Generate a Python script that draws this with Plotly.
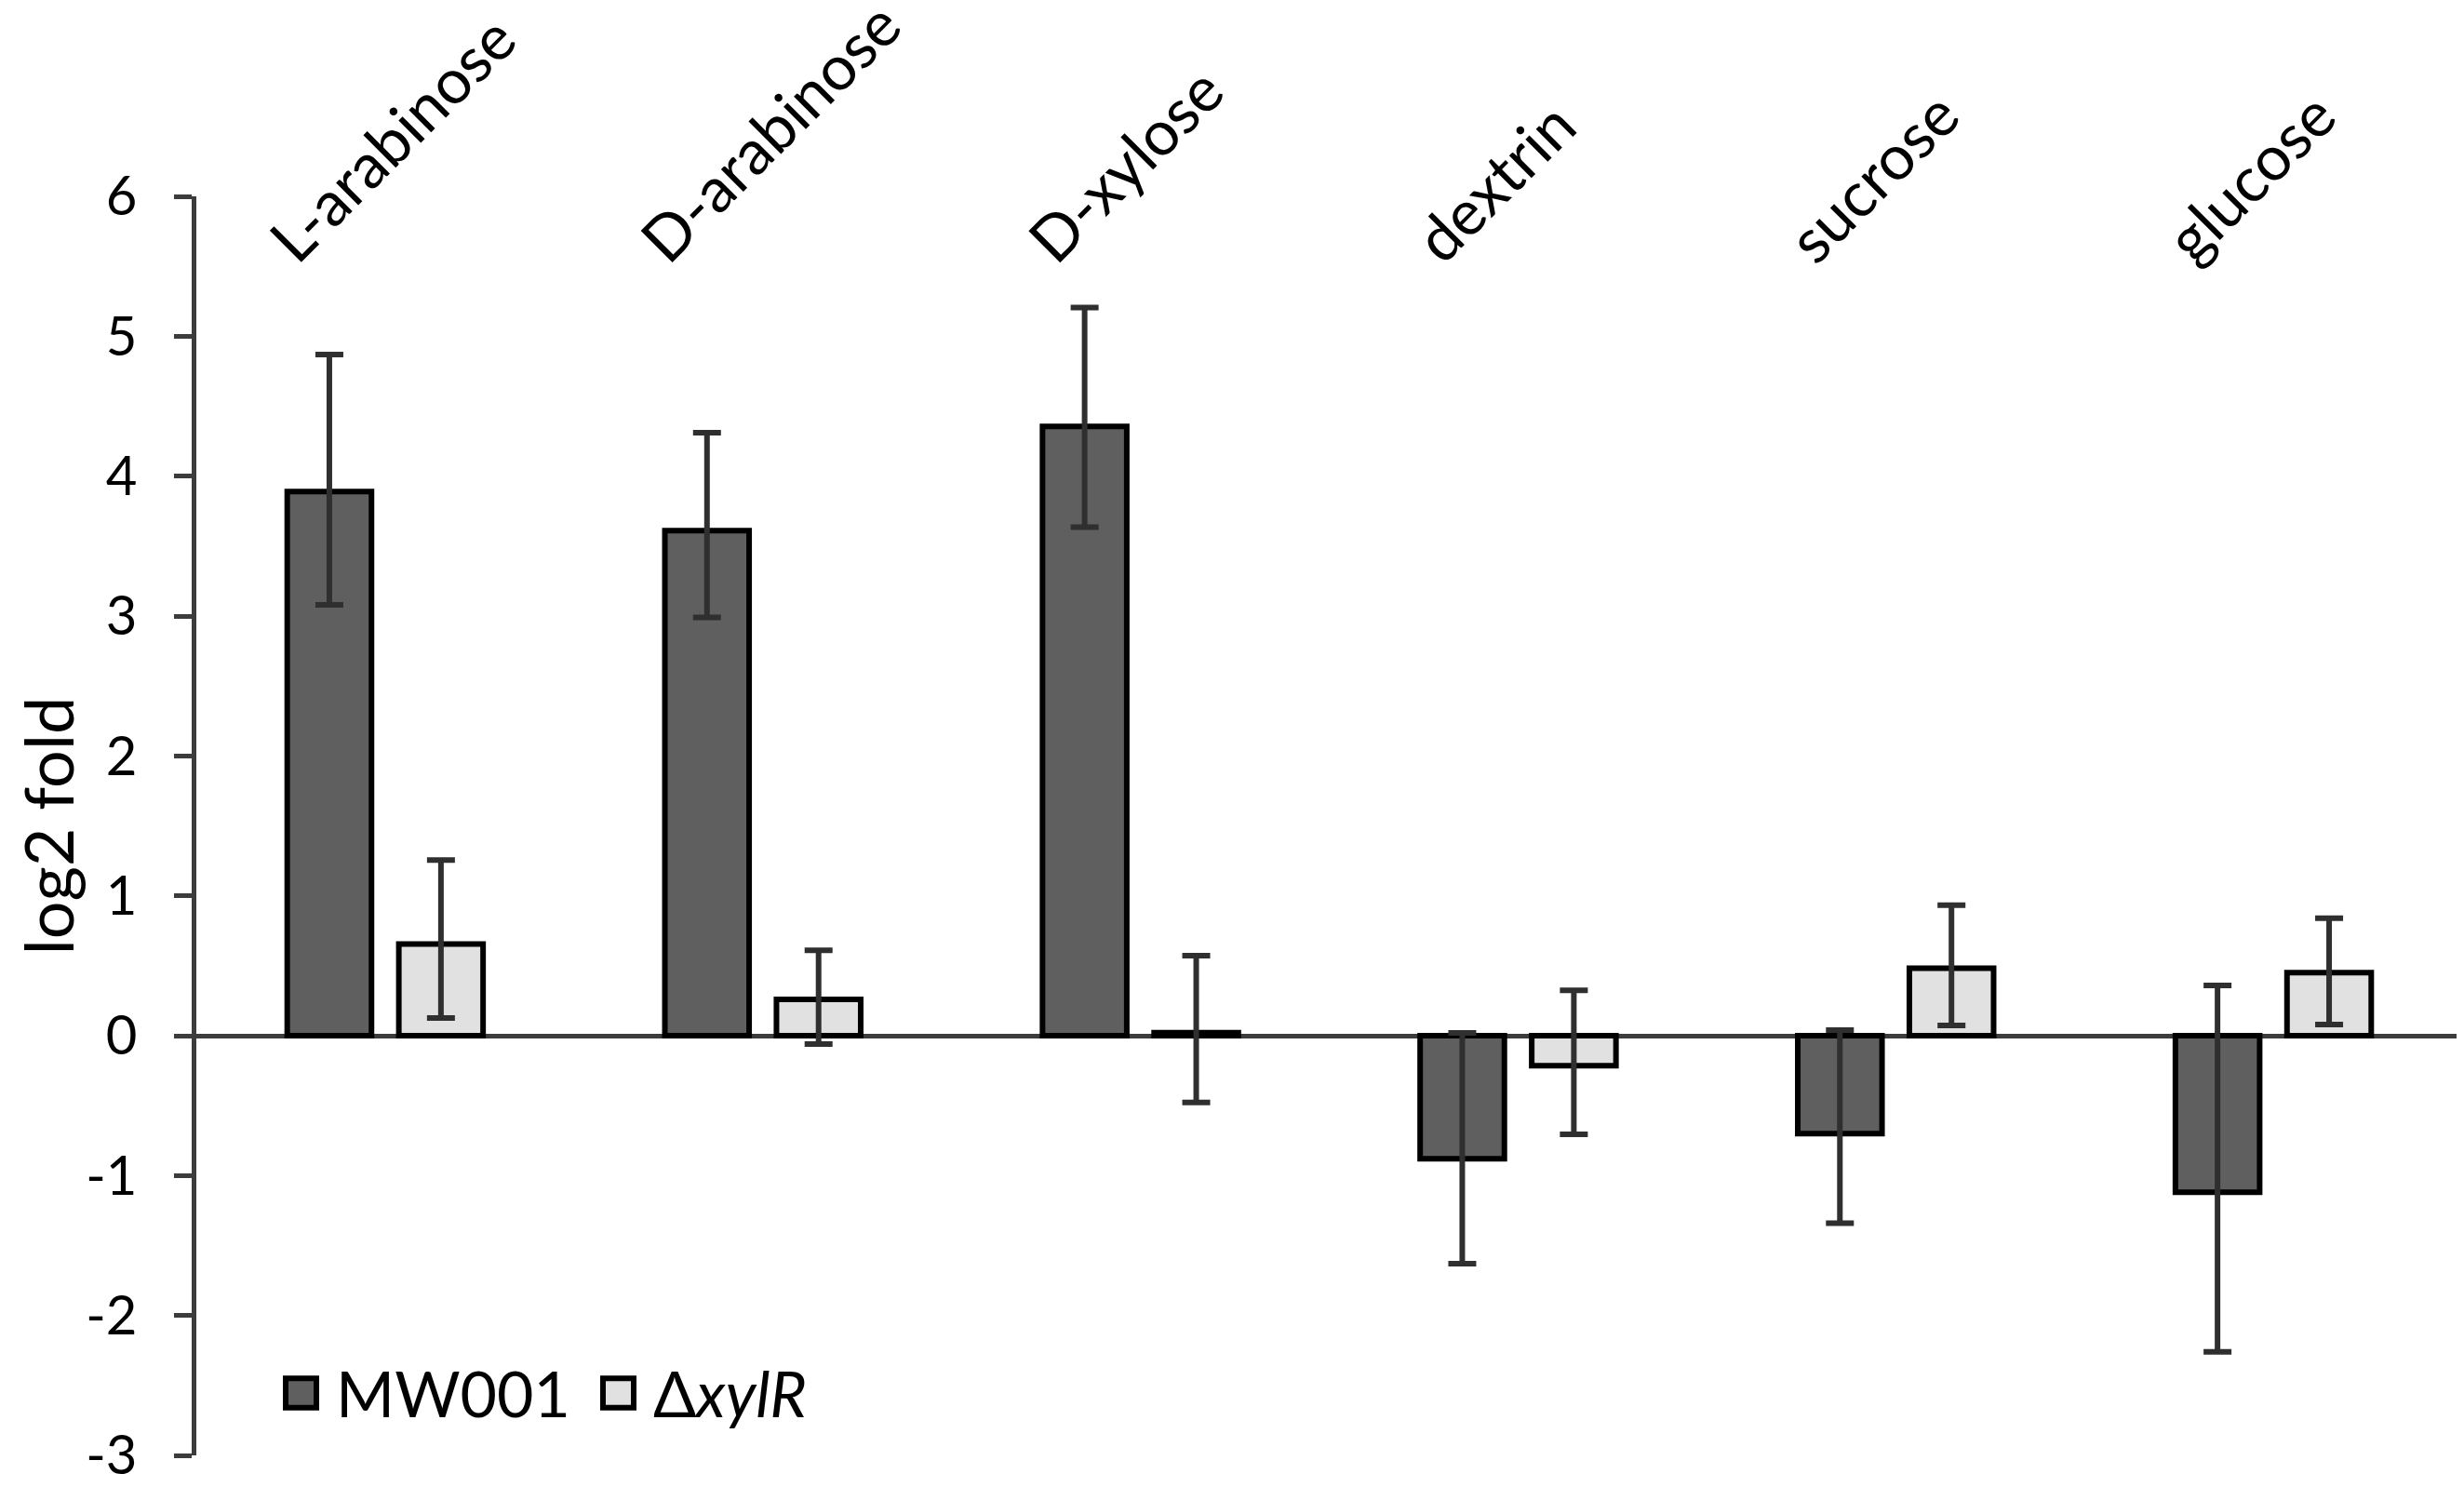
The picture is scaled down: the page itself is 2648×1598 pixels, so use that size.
import plotly.graph_objects as go

# sugars tested
categories = ["L-arabinose", "D-arabinose", "D-xylose", "dextrin", "sucrose", "glucose"]

# log2 fold change, MW001 (wild type)
mw001 = [3.89, 3.61, 4.355, -0.88, -0.70, -1.12]
mw001_err_plus = [0.98, 0.70, 0.85, 0.90, 0.74, 1.48]
mw001_err_minus = [0.81, 0.62, 0.72, 0.75, 0.64, 1.14]

# log2 fold change, xylR deletion
dxylr = [0.656, 0.26, 0.022, -0.215, 0.483, 0.45]
dxylr_err_plus = [0.60, 0.35, 0.55, 0.54, 0.45, 0.39]
dxylr_err_minus = [0.53, 0.32, 0.50, 0.49, 0.41, 0.37]

y_ticks = [-3, -2, -1, 0, 1, 2, 3, 4, 5, 6]
y_ticktext = ["-3", "-2", "-1", "0", "1", "2", "3", "4", "5", "6"]

W, H = 2648, 1598
L, R, T, B = 203, 10, 203, 22
FONT = "Lato, 'Open Sans', sans-serif"
DARK = "#5f5f5f"
LIGHT = "#e1e1e1"
AXIS = "#3c3c3c"
ERR = "#2f2f2f"


def px_x(p):
    return (p - L) / (W - L - R)


def px_y(p):
    return (H - B - p) / (H - T - B)


fig = go.Figure()

fig.add_trace(go.Bar(
    x=categories, y=mw001, name="MW001",
    marker=dict(color=DARK, line=dict(color="black", width=6)),
    error_y=dict(type="data", symmetric=False, array=mw001_err_plus,
                 arrayminus=mw001_err_minus, color=ERR, thickness=6, width=15),
    showlegend=False,
))
fig.add_trace(go.Bar(
    x=categories, y=dxylr, name="ΔxylR",
    marker=dict(color=LIGHT, line=dict(color="black", width=6)),
    error_y=dict(type="data", symmetric=False, array=dxylr_err_plus,
                 arrayminus=dxylr_err_minus, color=ERR, thickness=6, width=15),
    showlegend=False,
))

# category labels, rotated, above the plot
# (longer names sit a bit further right, like in the original)
for c in categories:
    fig.add_annotation(
        x=c, xref="x", y=1, yref="paper", yshift=-88,
        xshift=-25 + 8 * (len(c) - 7),
        text=c, textangle=-45, showarrow=False,
        xanchor="center", yanchor="bottom",
        font=dict(family=FONT, size=67, color="black"),
    )

# hand-made legend (big square swatches like the original)
legend_items = [("MW001", DARK, 299), ("Δ<i>xylR</i>", LIGHT, 640)]
for label, colour, left in legend_items:
    fig.add_shape(
        type="rect", xref="paper", yref="paper",
        x0=px_x(left), x1=px_x(left + 33), y0=px_y(1524), y1=px_y(1492),
        fillcolor=colour, line=dict(color="black", width=6),
    )
    fig.add_annotation(
        x=px_x(left + 52), y=px_y(1508), xref="paper", yref="paper",
        text=label, showarrow=False, xanchor="left", yanchor="middle",
        font=dict(family=FONT, size=68, color="black"),
    )

fig.update_layout(
    width=W, height=H,
    margin=dict(l=L, r=R, t=T, b=B, pad=0),
    paper_bgcolor="white", plot_bgcolor="white",
    barmode="group", bargap=0.409, bargroupgap=0.245,
    font=dict(family=FONT, color="black"),
)

fig.update_xaxes(
    showticklabels=False, showline=False, showgrid=False, ticks="",
    zeroline=False,
)
fig.update_yaxes(
    range=[-3, 6], tickvals=y_ticks, ticktext=y_ticktext,
    ticks="outside", ticklen=19, tickwidth=5, tickcolor=AXIS,
    showline=True, linecolor=AXIS, linewidth=5,
    showgrid=False, zeroline=True, zerolinecolor=AXIS, zerolinewidth=5,
    tickfont=dict(family=FONT, size=58, color="black"),
    ticklabelstandoff=28, ticklabeloverflow="allow",
    title=dict(text="log2 fold", font=dict(family=FONT, size=72, color="black"), standoff=20),
)

fig.write_html("out.html")
